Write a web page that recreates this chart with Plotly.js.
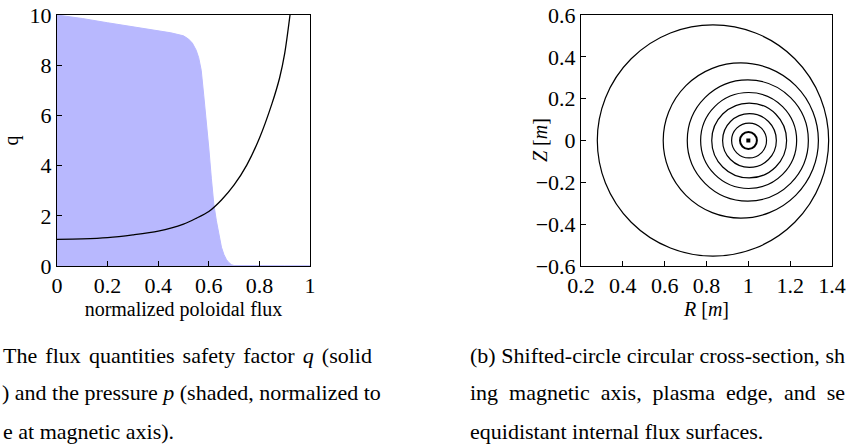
<!DOCTYPE html>
<html>
<head>
<meta charset="utf-8">
<script src="https://cdn.plot.ly/plotly-3.0.1.min.js"></script>
<style>
  html, body { margin: 0; padding: 0; background: #ffffff; }
  #chart { width: 846px; height: 448px; }
</style>
</head>
<body>
<div id="chart"></div>
<script>
// ---------- data ----------
// (a) safety factor q vs normalized poloidal flux
const qFlux   = [0, 0.1, 0.2, 0.3, 0.4, 0.5, 0.55, 0.6, 0.65, 0.7, 0.75, 0.8, 0.85, 0.88, 0.9, 0.921];
const qValues = [1.06, 1.08, 1.13, 1.24, 1.39, 1.67, 1.9, 2.17, 2.63, 3.23, 4.02, 5.09, 6.48, 7.5, 8.47, 10.0];

// (a) pressure, normalized to 10 at the magnetic axis (shaded)
const pFlux    = [0, 0.1, 0.2, 0.3, 0.4, 0.45, 0.5, 0.52, 0.535, 0.55, 0.56, 0.57, 0.58, 0.59, 0.6, 0.61, 0.62, 0.63, 0.64, 0.65, 0.66, 0.67, 0.68, 0.69, 0.7, 0.75, 0.8, 0.9, 1.0];
const pressure = [10, 9.86, 9.69, 9.52, 9.37, 9.29, 9.17, 9.04, 8.88, 8.6, 8.3, 7.8, 6.8, 5.8, 4.7, 3.5, 2.45, 1.8, 1.2, 0.75, 0.45, 0.25, 0.13, 0.05, 0.02, 0.01, 0.01, 0.01, 0.01];

// (b) flux surfaces: inner and outer crossing of Z = 0 (plasma edge first, then 7 internal surfaces)
const surfRin  = [0.278, 0.593, 0.708, 0.772, 0.825, 0.877, 0.920, 0.960];
const surfRout = [1.384, 1.335, 1.287, 1.231, 1.183, 1.134, 1.087, 1.041];
const surfWidth = [1.2, 1.2, 1.2, 1.2, 1.2, 1.2, 1.2, 2.0];
// (b) magnetic axis
const axisR = [1.0];
const axisZ = [0.0];

// captions
const captionA = ['The flux quantities safety factor <i>q</i> (solid',
                  ') and the pressure <i>p</i> (shaded, normalized to',
                  'e at magnetic axis).'];
const captionB = ['(b) Shifted-circle circular cross-section, sh',
                  'ing magnetic axis, plasma edge, and se',
                  'equidistant internal flux surfaces.'];

// ---------- layout helpers ----------
const W = 846, H = 448;
const px = v => v / W;
const py = v => (H - v) / H;
const FONT = '"Liberation Serif", "Times New Roman", "DejaVu Serif", serif';
const TICK_SIZE = 22;

function axisStyle(extra) {
  return Object.assign({
    showgrid: false, zeroline: false,
    showline: true, mirror: true, linecolor: '#000', linewidth: 1,
    ticks: 'inside', ticklen: 5, tickwidth: 1, tickcolor: '#000',
    tickfont: { family: FONT, size: TICK_SIZE, color: '#000' },
    ticklabeloverflow: 'allow',
    fixedrange: true
  }, extra);
}

const traces = [
  { x: pFlux, y: pressure, xaxis: 'x', yaxis: 'y', mode: 'lines', fill: 'tozeroy',
    fillcolor: 'rgb(184,184,254)', line: { color: 'rgb(184,184,254)', width: 1 }, hoverinfo: 'skip' },
  { x: qFlux, y: qValues, xaxis: 'x', yaxis: 'y', mode: 'lines',
    line: { color: '#000', width: 1.3, shape: 'spline', smoothing: 0.8 } },
  { x: axisR, y: axisZ, xaxis: 'x2', yaxis: 'y2', mode: 'markers',
    marker: { symbol: 'square', size: 4, color: '#000', line: { width: 0 } } }
];

const shapes = surfRin.map((rin, i) => {
  const r = (surfRout[i] - rin) / 2;
  return { type: 'circle', xref: 'x2', yref: 'y2', x0: rin, x1: surfRout[i], y0: -r, y1: r,
           line: { color: '#000', width: surfWidth[i] }, fillcolor: 'rgba(0,0,0,0)' };
});

const annotations = [];
const capY = [355, 392, 431];
const capAx = [1, 0, 1];
captionA.forEach((t, i) => annotations.push({
  text: t, xref: 'paper', yref: 'paper', x: px(capAx[i]), y: py(capY[i]),
  xanchor: 'left', yanchor: 'middle', align: 'left', showarrow: false,
  font: { family: FONT, size: 22, color: '#000' }
}));
captionB.forEach((t, i) => annotations.push({
  text: t, xref: 'paper', yref: 'paper', x: px(468), y: py(capY[i]),
  xanchor: 'left', yanchor: 'middle', align: 'left', showarrow: false,
  font: { family: FONT, size: 22, color: '#000' }
}));
annotations.push({
  text: '<i>Z</i> [<i>m</i>]', xref: 'paper', yref: 'paper', x: px(540), y: py(140),
  xanchor: 'center', yanchor: 'middle', textangle: -90, showarrow: false,
  font: { family: FONT, size: 20, color: '#000' }
});

const layout = {
  width: W, height: H,
  margin: { l: 0, r: 0, t: 0, b: 0 },
  paper_bgcolor: '#fff', plot_bgcolor: '#fff',
  showlegend: false,
  font: { family: FONT, size: 20, color: '#000' },
  xaxis: axisStyle({ domain: [px(57), px(310)], range: [0, 1], tick0: 0, dtick: 0.2, anchor: 'y',
    title: { text: 'normalized poloidal flux', font: { family: FONT, size: 20 }, standoff: 0 } }),
  yaxis: axisStyle({ domain: [py(266), py(15)], range: [0, 10], tick0: 0, dtick: 2, anchor: 'x',
    title: { text: 'q', font: { family: FONT, size: 20 }, standoff: 8 } }),
  xaxis2: axisStyle({ domain: [px(581), px(832)], range: [0.2, 1.4], tick0: 0.2, dtick: 0.2, anchor: 'y2',
    title: { text: '<i>R</i> [<i>m</i>]', font: { family: FONT, size: 20 }, standoff: 0 } }),
  yaxis2: axisStyle({ domain: [py(266), py(15)], range: [-0.6, 0.6], tick0: -0.6, dtick: 0.2, anchor: 'x2' }),
  shapes: shapes,
  annotations: annotations
};

Plotly.newPlot('chart', traces, layout, { staticPlot: true, displayModeBar: false }).then(gd => {
  // justify the full caption lines (LaTeX-style stretched word spacing)
  const targets = { 0: 372, 1: 372, 3: 845, 4: 845 };
  gd.querySelectorAll('g.annotation').forEach(g => {
    const idx = +g.getAttribute('data-index');
    if (!(idx in targets)) return;
    const txt = g.querySelector('text.annotation-text');
    if (!txt) return;
    const box = txt.getBBox();
    const ctm = txt.getCTM();
    const left = box.x + (ctm ? ctm.e : 0);
    const natural = box.width;
    const spaces = (txt.textContent.match(/ /g) || []).length;
    if (spaces > 0) {
      const extra = (targets[idx] - left - natural) / spaces;
      if (extra > 0) txt.style.wordSpacing = extra.toFixed(2) + 'px';
    }
  });
});
</script>
</body>
</html>
